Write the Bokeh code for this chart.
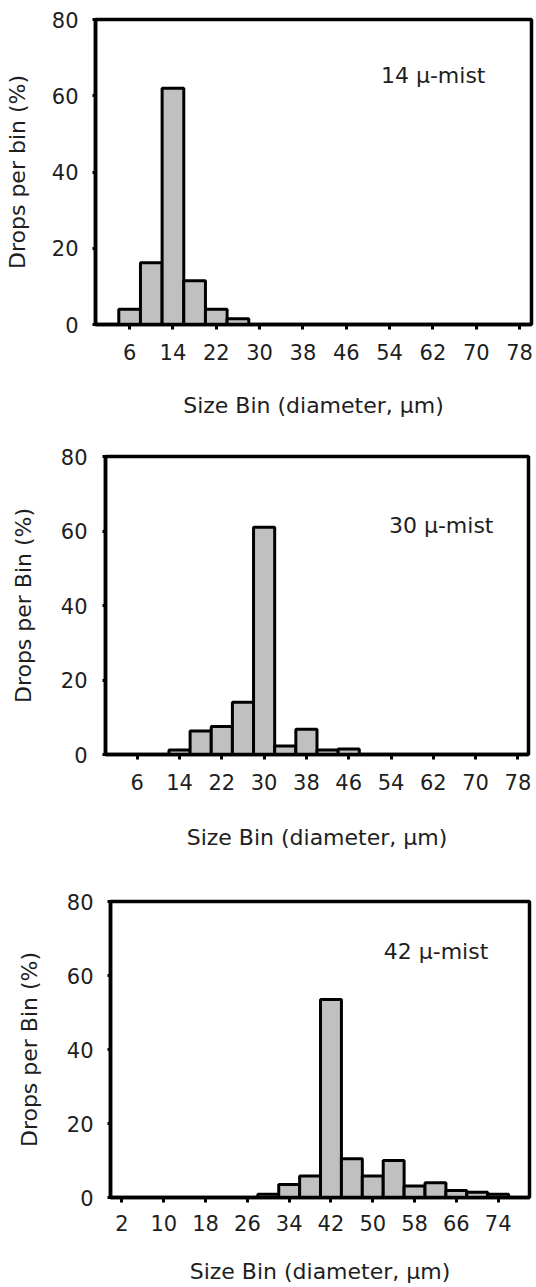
from bokeh.plotting import figure
from bokeh.models import Range1d, FixedTicker, Label, ColumnDataSource
from bokeh.embed import file_html
from bokeh.resources import INLINE

# ---- data ----
bins = [2, 6, 10, 14, 18, 22, 26, 30, 34, 38, 42, 46, 50, 54, 58, 62, 66, 70, 74, 78]
mist14 = [0, 4.0, 16.2, 62.0, 11.5, 4.0, 1.5, 0, 0, 0, 0, 0, 0, 0, 0, 0, 0, 0, 0, 0]
mist30 = [0, 0, 0, 1.2, 6.3, 7.5, 14.0, 61.0, 2.3, 6.8, 1.2, 1.5, 0, 0, 0, 0, 0, 0, 0, 0]
mist42 = [0, 0, 0, 0, 0, 0, 0, 0.9, 3.5, 5.8, 53.5, 10.5, 5.8, 10.0, 3.1, 4.0, 1.9, 1.4, 0.9, 0]
ticks_a = [6, 14, 22, 30, 38, 46, 54, 62, 70, 78]
ticks_b = [2, 10, 18, 26, 34, 42, 50, 58, 66, 74]
y_ticks = [0, 20, 40, 60, 80]
titles = ["14 \u03bc-mist", "30 \u03bc-mist", "42 \u03bc-mist"]
ylabels = ["Drops per bin (%)", "Drops per Bin (%)", "Drops per Bin (%)"]
xlabel = "Size Bin (diameter, \u03bcm)"

FONT = "DejaVu Sans"
TXT = "#1e1e1e"


def panel(values, ticks, xr, h, bt, bb, bl, br, ylab, note, nx, ny,
          y_std, ylab_std, x_std, xlab_std):
    p = figure(width=536, height=h, x_range=Range1d(*xr), y_range=Range1d(0, 80),
               output_backend="svg", toolbar_location=None,
               min_border_top=bt, min_border_bottom=bb,
               min_border_left=bl, min_border_right=br)
    p.xgrid.visible = False
    p.ygrid.visible = False
    p.background_fill_color = "white"
    p.border_fill_color = "white"
    p.outline_line_color = "black"
    p.outline_line_width = 3.5
    p.outline_line_alpha = 1.0

    src = ColumnDataSource(dict(x=bins, top=values))
    p.vbar(x="x", top="top", bottom=0, width=4, source=src,
           fill_color="#c0c0c0", line_color="black", line_width=3)

    for ax in (p.xaxis[0], p.yaxis[0]):
        ax.axis_line_color = "black"
        ax.axis_line_width = 3.5
        ax.major_tick_line_color = "black"
        ax.major_tick_line_width = 3
        ax.major_tick_in = 0
        ax.minor_tick_line_color = None
        ax.major_label_text_font = FONT
        ax.major_label_text_font_size = "21px"
        ax.major_label_text_color = TXT
        ax.axis_label_text_font = FONT
        ax.axis_label_text_font_size = "22px"
        ax.axis_label_text_font_style = "normal"
        ax.axis_label_text_color = TXT

    p.xaxis.ticker = FixedTicker(ticks=ticks)
    p.yaxis.ticker = FixedTicker(ticks=y_ticks)
    p.xaxis.major_tick_out = 5
    p.yaxis.major_tick_out = 3
    p.yaxis.major_label_standoff = y_std
    p.yaxis.axis_label_standoff = ylab_std
    p.xaxis.major_label_standoff = x_std
    p.xaxis.axis_label_standoff = xlab_std
    p.xaxis.axis_label = xlabel
    p.yaxis.axis_label = ylab

    p.add_layout(Label(x=nx, y=ny, text=note, text_font=FONT,
                       text_font_size="22px", text_color=TXT,
                       text_baseline="alphabetic", text_align="left"))
    return p


p1 = panel(mist14, ticks_a, (-0.3, 80.2), 420, 19, 96, 95, 5, ylabels[0],
           titles[0], 52.4, 65.2, 14, 19, 14, 30)
p2 = panel(mist30, ticks_a, (0, 80), 440, 36, 106, 105, 8, ylabels[1],
           titles[1], 53.6, 61.4, 15, 22, 14, 32)
p3 = panel(mist42, ticks_b, (-0.2, 80), 427, 41, 90, 110, 7, ylabels[2],
           titles[2], 52.1, 66.4, 14, 22, 12, 25)

# three independent roots, stacked, so each keeps its own frame position
open("out.html", "w").write(file_html([p1, p2, p3], INLINE))
